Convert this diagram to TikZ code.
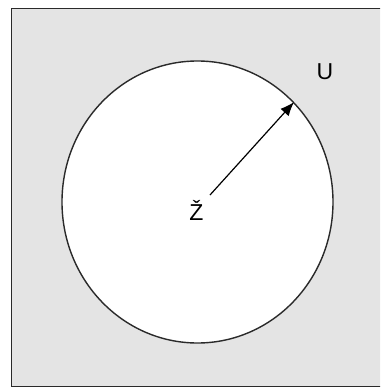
\documentclass[tikz,border=0pt]{standalone}
\usepackage{fontspec}
\setmainfont{Liberation Sans}
\usetikzlibrary{arrows.meta,shapes.geometric}
\definecolor{setgray}{HTML}{E4E4E4}
\definecolor{setline}{HTML}{2A2A2A}

\begin{document}
\begin{tikzpicture}[x=1pt, y=-1pt,
    universe/.style={draw=setline, line width=1.6pt, fill=setgray},
    setbody/.style={ellipse, draw=setline, line width=1.4pt, fill=white,
                    minimum width=271pt, minimum height=282pt, inner sep=0pt},
    lbl/.style={font=\fontsize{23}{26}\selectfont, text=black, inner sep=0pt},
    arrow/.style={-{Latex[length=14pt, width=11pt]}, draw=black, line width=1.2pt}
  ]
    \useasboundingbox (0,0) rectangle (380,388);
    \clip (0,0) rectangle (380,388);
    \draw[universe] (11.5,8.5) rectangle (395,386.5);

    \node[setbody] (set) at (197.5,202) {};
    \node[lbl] (u) at (325,71.5) {U};
    \node[lbl] (z) at (196.5,210) {Ž};

    \coordinate (start) at (210,195);
    \draw[arrow] (start) -- (set.46);
  \end{tikzpicture}
\end{document}
